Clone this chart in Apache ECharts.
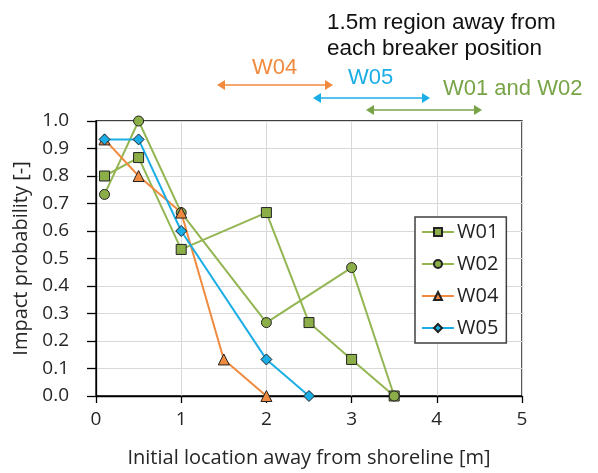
<!DOCTYPE html>
<html><head><meta charset="utf-8">
<script src="https://cdn.jsdelivr.net/npm/echarts@6/dist/echarts.min.js"></script>
<style>html,body{margin:0;padding:0;background:#fff}#c{width:598px;height:473px}</style>
</head><body><div id="c"></div>
<script>
const seriesNames = ['W01', 'W02', 'W04', 'W05'];
const w01X = [0.1, 0.5, 1, 2, 2.5, 3, 3.5];
const w01Y = [0.8, 0.867, 0.533, 0.667, 0.267, 0.133, 0];
const w02X = [0.1, 0.5, 1, 2, 3, 3.5];
const w02Y = [0.733, 1.0, 0.667, 0.267, 0.467, 0];
const w04X = [0.1, 0.5, 1, 1.5, 2];
const w04Y = [0.933, 0.8, 0.667, 0.133, 0];
const w05X = [0.1, 0.5, 1, 2, 2.5];
const w05Y = [0.933, 0.933, 0.6, 0.133, 0];
const xTicks = [0, 1, 2, 3, 4, 5];
const yTicks = [0, 0.1, 0.2, 0.3, 0.4, 0.5, 0.6, 0.7, 0.8, 0.9, 1.0];

const GREEN = '#93B653', GREENF = '#8BAE48', ORANGE = '#F08A3E', BLUE = '#1BAEE6';
const zip = (xs, ys) => xs.map((x, i) => [x, ys[i]]);
const F = '"Open Sans", Lato, sans-serif';
const A = '"Liberation Sans", Arial, sans-serif';

function mk(name, xs, ys, color, fill, symbol, size) {
  return {
    name, type: 'line', data: zip(xs, ys), symbol, symbolSize: size,
    lineStyle: { color, width: 2 },
    itemStyle: { color: fill, borderColor: '#222', borderWidth: 1 },
    emphasis: { disabled: true }
  };
}

function arrow(x1, x2, y, color) {
  const h = 8, w = 5;
  return {
    type: 'group', children: [
      { type: 'line', shape: { x1: x1 + 4, y1: y, x2: x2 - 4, y2: y }, style: { stroke: color, lineWidth: 1.5 } },
      { type: 'polygon', shape: { points: [[x1, y], [x1 + h, y - w], [x1 + h, y + w]] }, style: { fill: color } },
      { type: 'polygon', shape: { points: [[x2, y], [x2 - h, y - w], [x2 - h, y + w]] }, style: { fill: color } }
    ]
  };
}

const chart = echarts.init(document.getElementById('c'), null, { renderer: 'canvas' });
chart.setOption({
  animation: false,
  backgroundColor: '#fff',
  grid: { left: 96, right: 76, top: 121, bottom: 74, show: true, borderColor: '#000', borderWidth: 1.3, backgroundColor: 'transparent' },
  xAxis: {
    type: 'value', min: xTicks[0], max: xTicks[xTicks.length - 1], interval: 1,
    name: 'Initial location away from shoreline [m]', nameLocation: 'middle', nameGap: 52,
    nameTextStyle: { fontFamily: F, fontSize: 20, color: '#262626' },
    axisLine: { show: true, lineStyle: { color: '#000', width: 1.3 } },
    axisTick: { show: true, length: 7, lineStyle: { color: '#000', width: 1.3 } },
    axisLabel: { fontFamily: F, fontSize: 19, color: '#262626', margin: 14 },
    splitLine: { show: true, lineStyle: { color: '#d9d9d9', width: 1 } }
  },
  yAxis: {
    type: 'value', min: yTicks[0], max: yTicks[yTicks.length - 1], interval: 0.1,
    name: 'Impact probability [-]', nameLocation: 'middle', nameGap: 63,
    nameTextStyle: { fontFamily: F, fontSize: 20, color: '#262626' },
    axisLine: { show: true, lineStyle: { color: '#000', width: 1.3 } },
    axisTick: { show: true, length: 9, lineStyle: { color: '#000', width: 1.3 } },
    axisLabel: { fontFamily: F, fontSize: 19, color: '#262626', margin: 27, formatter: v => v.toFixed(1) },
    splitLine: { show: true, lineStyle: { color: '#d9d9d9', width: 1 } }
  },
  legend: {
    orient: 'vertical', left: 415, top: 217, width: 90, height: 128,
    padding: [5, 8, 5, 6], itemGap: 12, itemWidth: 32, itemHeight: 10,
    backgroundColor: '#fff', borderColor: '#404040', borderWidth: 1.5,
    textStyle: { fontFamily: F, fontSize: 20, color: '#222', padding: [0, 0, 0, -2] },
    data: seriesNames
  },
  series: [
    mk('W01', w01X, w01Y, GREEN, GREENF, 'rect', 10),
    mk('W02', w02X, w02Y, GREEN, GREENF, 'circle', 10),
    mk('W04', w04X, w04Y, ORANGE, ORANGE, 'triangle', 11),
    mk('W05', w05X, w05Y, BLUE, BLUE, 'diamond', 11)
  ],
  graphic: [
    { type: 'text', left: 327, top: 11, style: { text: '1.5m region away from', font: '22.5px ' + A, fill: '#111' } },
    { type: 'text', left: 327, top: 37, style: { text: 'each breaker position', font: '22.5px ' + A, fill: '#111' } },
    { type: 'text', left: 252, top: 57, style: { text: 'W04', font: '22px ' + A, fill: ORANGE } },
    { type: 'text', left: 348, top: 67, style: { text: 'W05', font: '22px ' + A, fill: BLUE } },
    { type: 'text', left: 443, top: 78, style: { text: 'W01 and W02', font: '22px ' + A, fill: '#78A447' } },
    arrow(217, 333, 85, ORANGE),
    arrow(313, 430, 98, BLUE),
    arrow(366, 482, 110, '#78A447')
  ]
});
</script></body></html>
